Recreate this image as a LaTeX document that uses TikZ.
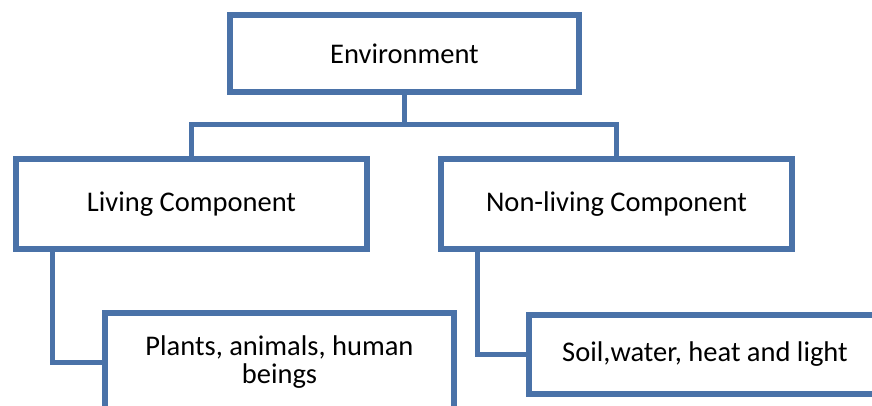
\documentclass[tikz,border=0pt]{standalone}
\usepackage{fontspec}
\setmainfont{Carlito}
\usetikzlibrary{shapes, shadows}

\definecolor{boxblue}{RGB}{74,114,168}

\begin{document}
\begin{tikzpicture}[x=1pt, y=-1pt]
      \tikzstyle{part} = [
        rectangle,
        draw=boxblue,
        fill=white,
        line width=6pt,
        text centered,
        align=center,
        outer sep=0pt,
        font=\fontsize{28.5}{28}\selectfont,
        drop shadow={shadow xshift=3pt, shadow yshift=-3pt,
          opacity=0.25, fill=gray}
      ]

      \tikzstyle{link} = [
        draw=boxblue,
        line width=5pt
      ]

      \useasboundingbox (0,0) rectangle (872,406);

      \node[part, minimum width=349pt, minimum height=77pt]
      (environment) at (404.5,53.5) {Environment};
      \node[part, minimum width=351pt, minimum height=89pt]
      (living) at (191.5,204) {Living Component};
      \node[part, minimum width=351pt, minimum height=89pt]
      (nonliving) at (616.5,204) {Non-living Component};
      \node[part, minimum width=349pt, minimum height=98pt]
      (plants) at (279.5,362) {Plants, animals, human\\beings};
      \node[part, minimum width=352pt, minimum height=79pt]
      (soil) at (705,354.5) {Soil,water, heat and light};

      \draw[link] (environment.south) -- ++(0,33) coordinate (fork);
      \draw[link] (fork) -| (living.north);
      \draw[link] (fork) -| (nonliving.north);
      \draw[link] ([xshift=36pt]living.south west) |- (plants.west);
      \draw[link] ([xshift=36pt]nonliving.south west) |- (soil.west);
\end{tikzpicture}
\end{document}
